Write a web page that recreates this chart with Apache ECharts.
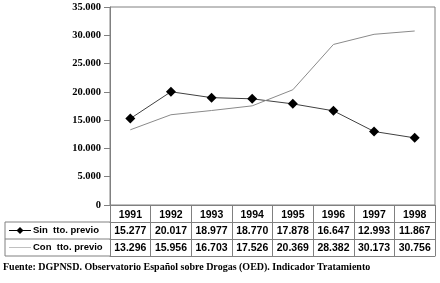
<!DOCTYPE html>
<html>
<head>
<meta charset="utf-8" />
<title>Sin / Con tto. previo</title>
<script src="https://cdn.jsdelivr.net/npm/echarts@6/dist/echarts.min.js"></script>
<style>
  html, body { margin: 0; padding: 0; background: #fff; }
  #chart { width: 440px; height: 283px; }
</style>
</head>
<body>
<div id="chart"></div>
<script>
  var years = ['1991','1992','1993','1994','1995','1996','1997','1998'];
  var sinPrevio = [15277, 20017, 18977, 18770, 17878, 16647, 12993, 11867];
  var conPrevio = [13296, 15956, 16703, 17526, 20369, 28382, 30173, 30756];
  var seriesNames = ['Sin  tto. previo', 'Con  tto. previo'];
  var fuente = 'Fuente: DGPNSD. Observatorio Español sobre Drogas (OED). Indicador Tratamiento';

  // layout
  var gLeft = 110, gRight = 5, gTop = 7, gBottom = 78;
  var rowH = 17;
  var lineCol = '#808080';
  var sinCol = '#404040', conCol = '#8a8a8a';

  function fmt(n) {
    return String(n).replace(/\B(?=(\d{3})+(?!\d))/g, '.');
  }

  function rowAxis(offset, values, showLabel) {
    return {
      type: 'category',
      data: years,
      position: 'bottom',
      offset: offset,
      axisLine: { show: true, lineStyle: { color: lineCol } },
      axisTick: { show: false },
      axisLabel: {
        show: showLabel,
        interval: 0,
        margin: 4,
        formatter: function (v, i) { return values ? fmt(values[i]) : v; },
        fontFamily: 'Liberation Sans', fontWeight: 'bold', fontSize: 10.5, color: '#000'
      }
    };
  }

  var chart = echarts.init(document.getElementById('chart'));
  var bottomY = 283 - gBottom;

  // left column of the table: line keys + row names
  var keyFont = { fontFamily: 'Liberation Sans', fontWeight: 'bold', fontSize: 9.5, fill: '#000' };
  var graphics = [];
  [1, 2, 3].forEach(function (k) {
    graphics.push({ type: 'line', shape: { x1: 5, y1: bottomY + rowH * k, x2: gLeft, y2: bottomY + rowH * k }, style: { stroke: lineCol, lineWidth: 1 } });
  });
  graphics.push({ type: 'line', shape: { x1: 5, y1: bottomY + rowH, x2: 5, y2: bottomY + rowH * 3 }, style: { stroke: lineCol, lineWidth: 1 } });
  seriesNames.forEach(function (name, i) {
    var cy = bottomY + rowH * (i + 1.5);
    graphics.push({ type: 'line', shape: { x1: 9, y1: cy, x2: 31, y2: cy }, style: { stroke: i === 0 ? '#000' : '#c0c0c0', lineWidth: 1 } });
    if (i === 0) {
      graphics.push({ type: 'polygon', shape: { points: [[20, cy - 3.5], [23.5, cy], [20, cy + 3.5], [16.5, cy]] }, style: { fill: '#000' } });
    }
    graphics.push({ type: 'text', x: 33, y: cy, style: Object.assign({ text: name, verticalAlign: 'middle' }, keyFont) });
  });

  chart.setOption({
    animation: false,
    grid: { left: gLeft, right: gRight, top: gTop, bottom: gBottom, show: true, borderColor: lineCol, borderWidth: 1 },
    title: {
      text: fuente,
      left: 3, top: 262, padding: 0,
      textStyle: { fontFamily: 'Liberation Serif', fontWeight: 'bold', fontSize: 10, color: '#000' }
    },
    xAxis: [
      {
        type: 'category',
        data: years,
        position: 'bottom',
        axisLine: { show: true, lineStyle: { color: lineCol } },
        axisTick: { show: true, inside: false, length: rowH * 3, interval: 0, lineStyle: { color: lineCol } },
        axisLabel: { interval: 0, margin: 5, fontFamily: 'Liberation Sans', fontWeight: 'bold', fontSize: 10.5, color: '#000' }
      },
      rowAxis(rowH, sinPrevio, true),
      rowAxis(rowH * 2, conPrevio, true),
      rowAxis(rowH * 3, null, false)
    ],
    yAxis: {
      type: 'value',
      min: 0, max: 35000, interval: 5000,
      axisLine: { show: true, lineStyle: { color: lineCol } },
      axisTick: { show: true, length: 6, lineStyle: { color: lineCol } },
      splitLine: { show: false },
      axisLabel: {
        margin: 9,
        formatter: function (v) { return fmt(v); },
        fontFamily: 'Liberation Serif', fontWeight: 'bold', fontSize: 10.5, color: '#000'
      }
    },
    graphic: graphics,
    series: [
      {
        name: seriesNames[0],
        type: 'line',
        data: sinPrevio,
        symbol: 'diamond',
        symbolSize: 10,
        lineStyle: { color: sinCol, width: 1 },
        itemStyle: { color: '#000' }
      },
      {
        name: seriesNames[1],
        type: 'line',
        data: conPrevio,
        symbol: 'none',
        lineStyle: { color: conCol, width: 1 },
        itemStyle: { color: conCol }
      }
    ]
  });
</script>
</body>
</html>
